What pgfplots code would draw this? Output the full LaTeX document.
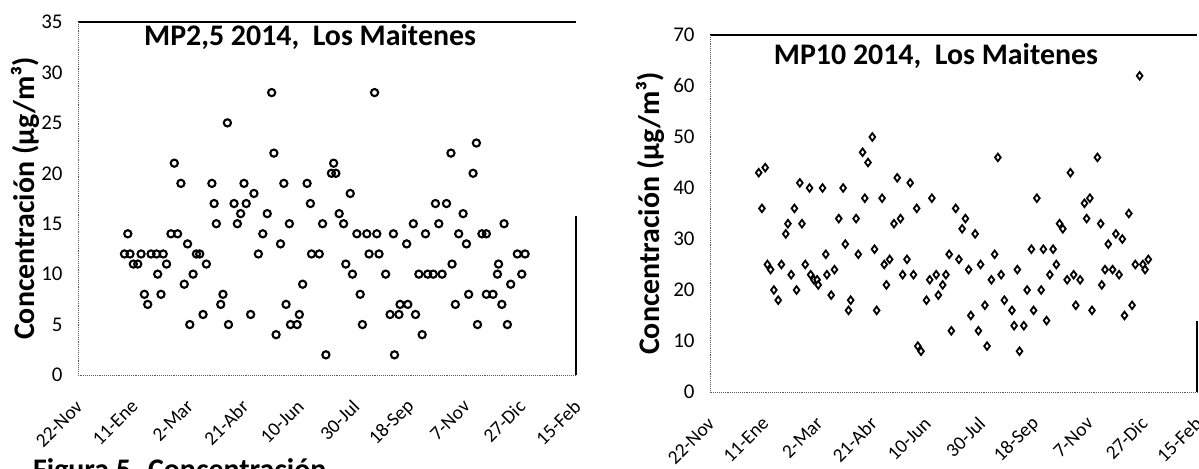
\documentclass[border=0pt]{standalone}
\usepackage{pgfplots}
\pgfplotsset{compat=1.18}
\usepackage{fontspec}
\setmainfont{Carlito}

% days counted from 22-Nov-2013
\pgfplotstableread{
day val
45 14
42 12
47 12
50 11
54 11
57 12
66 12
71 12
77 12
80 11
72 10
60 8
63 7
75 8
84 14
90 14
87 21
93 19
99 13
107 12
110 12
116 11
104 10
96 9
101 5
113 6
121 19
123 17
125 15
131 8
129 7
136 5
135 25
141 17
150 19
152 17
147 16
144 15
156 6
159 18
171 16
167 14
163 12
175 28
177 22
186 19
183 13
179 4
191 15
207 19
210 17
221 15
211 12
218 12
203 9
188 7
200 6
192 5
198 5
224 2
231 21
229 20
233 20
246 18
236 16
240 15
252 14
261 14
270 14
285 14
263 12
272 12
242 11
248 10
278 10
255 8
257 5
286 2
268 28
303 15
297 13
314 14
323 17
333 17
326 15
348 16
337 22
360 23
357 20
344 14
351 13
365 14
369 14
385 15
308 10
316 10
321 10
329 10
338 11
353 8
341 7
291 7
298 7
282 6
290 6
305 6
311 4
361 5
388 5
369 8
375 8
383 7
379 10
380 11
391 9
397 12
404 12
401 10
}\mpdosc

\pgfplotstableread{
day val
45 43
51 44
48 36
53 25
56 24
59 20
63 18
66 25
70 31
72 33
78 36
85 33
75 23
80 20
83 41
92 40
104 40
88 25
93 23
96 22
99 22
100 21
107 27
108 23
115 24
112 19
119 34
123 40
125 29
128 16
130 18
135 34
137 27
141 47
146 45
150 50
143 38
152 28
154 16
159 38
161 25
166 26
163 21
170 33
176 34
173 42
185 41
178 23
188 23
182 26
191 36
192 9
195 8
200 18
203 22
209 23
205 38
215 21
211 19
218 23
221 27
223 12
227 36
236 34
233 32
245 31
230 26
239 24
250 25
263 27
260 22
269 23
266 46
284 24
297 28
308 28
317 28
320 25
314 23
323 33
326 32
302 38
333 43
346 37
351 38
348 34
361 33
358 46
387 35
368 29
375 31
381 30
330 22
336 23
342 22
365 24
372 24
378 23
362 21
393 25
400 25
405 26
402 24
293 20
306 20
299 16
311 14
338 17
353 16
383 15
390 17
272 18
279 16
281 13
290 13
286 8
254 17
241 15
248 12
256 9
397 62
}\mpdiez

\pgfplotsset{
  maitenes/.style={
    scale only axis,
    anchor=south west,
    xmin=0, xmax=450,
    xtick={0,50,...,450},
    xticklabels={22-Nov,11-Ene,2-Mar,21-Abr,10-Jun,30-Jul,18-Sep,7-Nov,27-Dic,15-Feb},
    axis line style={draw=none},
    major tick length=0pt,
    /pgf/number format/assume math mode=true,
    yticklabel style={font=\fontsize{21}{22}\selectfont, anchor=east, xshift=-12bp},
    % shifts are taken in the rotated frame
    xticklabel style={font=\fontsize{19.5}{21}\selectfont, rotate=45, anchor=east,
      inner sep=0pt, xshift=-19bp, yshift=-21bp},
    ylabel={\bfseries Concentración (µg/m³)},
    ylabel style={font=\fontsize{30}{32}\selectfont},
    clip=false,
  },
}

\begin{document}
\begin{tikzpicture}
\path[use as bounding box] (0,0) rectangle (1199bp,469bp);

\begin{axis}[maitenes,
  at={(78bp,94bp)}, width=498bp, height=353bp,
  ymin=0, ymax=35, ytick={0,5,...,35},
  every axis y label/.append style={at={(rel axis cs:-0.106,0.5)}, anchor=center},
]
\addplot[only marks, mark=o, mark size=3.6bp, line width=2.1bp, black,
  mark options={fill=white}] table[x=day, y=val] {\mpdosc};
\draw[black, line width=1.3bp] (rel axis cs:0,1) -- (rel axis cs:1,1);
\draw[black, line width=1.6bp] (rel axis cs:1,0) -- (rel axis cs:1,0.45);
\draw[black!65, densely dotted, line width=0.9bp] (rel axis cs:0,1) -- (rel axis cs:0,0) -- (rel axis cs:1,0);
\node[font=\bfseries\fontsize{30}{32}\selectfont] at (rel axis cs:0.466,0.956) {MP2,5 2014,\ \ Los Maitenes};
\end{axis}

\begin{axis}[maitenes,
  at={(710bp,77bp)}, width=487bp, height=357bp,
  ymin=0, ymax=70, ytick={0,10,...,70},
  every axis y label/.append style={at={(rel axis cs:-0.123,0.5)}, anchor=center},
]
\addplot[only marks, mark=diamond*, mark size=3.8bp, line width=1.8bp, black,
  mark options={fill=white}] table[x=day, y=val] {\mpdiez};
\draw[black, line width=1.3bp] (rel axis cs:0,1) -- (rel axis cs:1,1);
\draw[black, line width=1.6bp] (rel axis cs:1,0) -- (rel axis cs:1,0.2);
\draw[black!65, densely dotted, line width=0.9bp] (rel axis cs:0,1) -- (rel axis cs:0,0) -- (rel axis cs:1,0);
\node[font=\bfseries\fontsize{30}{32}\selectfont] at (rel axis cs:0.464,0.941) {MP10 2014,\ \ Los Maitenes};
\end{axis}

\node[anchor=base west, font=\bfseries\fontsize{30}{32}\selectfont, inner sep=0pt] at (33bp,-10bp) {Figura 5. Concentración};
\end{tikzpicture}
\end{document}
